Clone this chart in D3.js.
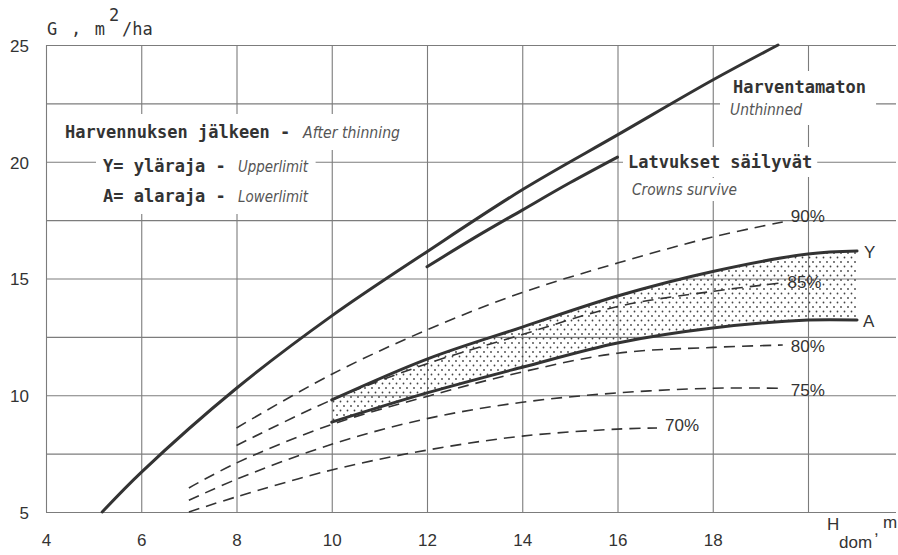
<!DOCTYPE html>
<html>
<head>
<meta charset="utf-8">
<script src="https://cdn.jsdelivr.net/npm/d3@7"></script>
<style>
  body { margin: 0; background: #fff; }
  svg { display: block; }
</style>
</head>
<body>
<svg id="chart" width="898" height="555"></svg>
<script>
// values: [H_dom (m), G (m2/ha)]
const unthinned = [[5.18, 5], [6, 6.7], [8, 10.3], [10, 13.4], [12, 16.15], [14, 18.8], [16, 21.15], [18, 23.5], [19.37, 25]];
const crownsSurvive = [[12, 15.5], [13, 16.75], [14, 17.93], [15, 19.1], [16, 20.2]];
const upperY = [[10, 9.8], [12, 11.55], [14, 12.92], [16, 14.25], [18, 15.3], [20, 16.05], [21.03, 16.18]];
const lowerA = [[10, 8.85], [12, 10.1], [14, 11.2], [16, 12.24], [18, 12.88], [20, 13.22], [21.03, 13.22]];
const p90 = [[8, 8.6], [10, 10.9], [12, 12.8], [14, 14.4], [16, 15.66], [18, 16.78], [19.47, 17.42]];
const p85 = [[8, 7.85], [10, 9.8], [12, 11.35], [14, 12.6], [16, 13.8], [18, 14.45], [19.4, 14.8]];
const p80 = [[7, 6.03], [8, 7.1], [10, 8.75], [12, 9.95], [14, 11.0], [16, 11.8], [18, 12.05], [19.47, 12.15]];
const p75 = [[7, 5.5], [8, 6.4], [10, 7.9], [12, 9.0], [14, 9.7], [16, 10.1], [18, 10.3], [19.47, 10.3]];
const p70 = [[7, 5.0], [8, 5.65], [10, 6.8], [12, 7.65], [14, 8.25], [16, 8.55], [16.83, 8.6]];

const xTicks = [4, 6, 8, 10, 12, 14, 16, 18, 20];
const xLabels = ['4', '6', '8', '10', '12', '14', '16', '18', ''];
const yTicks = [5, 7.5, 10, 12.5, 15, 17.5, 20, 22.5, 25];
const yLabels = ['5', '', '10', '', '15', '', '20', '', '25'];
const pctNames = ['90%', '85%', '80%', '75%', '70%'];

const plotL = 46, plotR = 896, plotT = 45, plotB = 512;

const svg = d3.select('#chart');
const x = d3.scaleLinear().domain([4, 20]).range([plotL, 808]);
const y = d3.scaleLinear().domain([5, 25]).range([plotB, plotT]);

const gridG = svg.append('g');
const maskG = svg.append('g');
const bandG = svg.append('g');
const lineG = svg.append('g');
const textG = svg.append('g');

// dotted fill for the thinning band
const pat = svg.append('defs').append('pattern')
  .attr('id', 'dots')
  .attr('patternUnits', 'userSpaceOnUse')
  .attr('width', 7).attr('height', 9);
pat.append('circle').attr('cx', 1).attr('cy', 1).attr('r', 0.9).attr('fill', '#444');
pat.append('circle').attr('cx', 4.5).attr('cy', 5.5).attr('r', 0.9).attr('fill', '#444');

// grid
gridG.append('g')
  .attr('transform', 'translate(' + plotL + ',0)')
  .call(d3.axisLeft(y).tickValues(yTicks)
    .tickSize(-(plotR - plotL)).tickPadding(17)
    .tickFormat((d, i) => yLabels[i]))
  .call(g => g.select('.domain').remove())
  .call(g => g.selectAll('.tick line').attr('stroke', '#7c7c7c').attr('stroke-width', 1.1))
  .call(g => g.selectAll('.tick text')
    .attr('fill', '#333').attr('font-family', 'Liberation Sans, Arial, sans-serif')
    .attr('font-size', 17).attr('dy', '0.38em'));

gridG.append('g')
  .attr('transform', 'translate(0,' + plotB + ')')
  .call(d3.axisBottom(x).tickValues(xTicks)
    .tickSize(-(plotB - plotT)).tickPadding(22)
    .tickFormat((d, i) => xLabels[i]))
  .call(g => g.select('.domain').remove())
  .call(g => g.selectAll('.tick line').attr('stroke', '#7c7c7c').attr('stroke-width', 1.1))
  .call(g => g.selectAll('.tick text')
    .attr('fill', '#333').attr('font-family', 'Liberation Sans, Arial, sans-serif')
    .attr('font-size', 17));

// curves
const curve = d3.curveCatmullRom.alpha(0.5);
const line = d3.line().x(d => x(d[0])).y(d => y(d[1])).curve(curve);

const band = lowerA.map((d, i) => [d[0], d[1], upperY[i][1]]);
bandG.append('path')
  .attr('d', d3.area().x(d => x(d[0])).y0(d => y(d[1])).y1(d => y(d[2])).curve(curve)(band))
  .attr('fill', 'url(#dots)');

const dashed = [p90, p85, p80, p75, p70];
lineG.selectAll('.pct')
  .data(dashed)
  .join('path')
  .attr('class', 'pct')
  .attr('d', d => line(d))
  .attr('fill', 'none')
  .attr('stroke', '#333')
  .attr('stroke-width', 1.6)
  .attr('stroke-dasharray', '11,7');

lineG.selectAll('.solid')
  .data([unthinned, crownsSurvive, upperY, lowerA])
  .join('path')
  .attr('class', 'solid')
  .attr('d', d => line(d))
  .attr('fill', 'none')
  .attr('stroke', '#333')
  .attr('stroke-width', 3)
  .attr('stroke-linecap', 'round');

// text helpers
const mono = 'DejaVu Sans Mono, monospace';
const ital = 'DejaVu Sans, sans-serif';

function boldText(str, px, py) {
  return textG.append('text')
    .attr('x', px).attr('y', py)
    .attr('font-family', mono).attr('font-weight', 'bold')
    .attr('font-size', 17).attr('fill', '#333')
    .text(str);
}

function italText(str, px, py, w) {
  return textG.append('text')
    .attr('x', px).attr('y', py)
    .attr('font-family', ital).attr('font-style', 'italic').attr('font-weight', 200)
    .attr('font-size', 16).attr('fill', '#555')
    .attr('textLength', w).attr('lengthAdjust', 'spacingAndGlyphs')
    .text(str);
}

function knockout(nodes, padX, padY) {
  let x0 = Infinity, y0 = Infinity, x1 = -Infinity, y1 = -Infinity;
  nodes.forEach(n => {
    const b = n.node().getBBox();
    x0 = Math.min(x0, b.x); y0 = Math.min(y0, b.y);
    x1 = Math.max(x1, b.x + b.width); y1 = Math.max(y1, b.y + b.height);
  });
  maskG.append('rect')
    .attr('x', x0 - padX).attr('y', y0 - padY)
    .attr('width', x1 - x0 + 2 * padX).attr('height', y1 - y0 + 2 * padY)
    .attr('fill', '#fff');
}

// legend block
knockout([boldText('Harvennuksen jälkeen -', 65, 138), italText('After thinning', 303, 138, 97)], 9, 8);
knockout([boldText('Y= yläraja -', 103, 172), italText('Upperlimit', 238, 172, 70)], 7, 8);
knockout([boldText('A= alaraja -', 103, 202), italText('Lowerlimit', 238, 202, 70)], 7, 8);

// curve labels
knockout([boldText('Harventamaton', 733, 93), italText('Unthinned', 730, 115, 72)], 10, 6);
knockout([boldText('Latvukset säilyvät', 628, 168)], 5, 5);
knockout([italText('Crowns survive', 632, 195, 105)], 4, 2);

// percentage labels at the end of each dashed curve
const pctDy = [0, 5, 7, 8, 3];
textG.selectAll('.pctlab')
  .data(dashed)
  .join('text')
  .attr('class', 'pctlab')
  .attr('x', d => x(d[d.length - 1][0]) + 8)
  .attr('y', (d, i) => y(d[d.length - 1][1]) + pctDy[i])
  .attr('font-family', 'Liberation Sans, Arial, sans-serif')
  .attr('font-size', 17).attr('fill', '#333')
  .text((d, i) => pctNames[i]);

textG.append('text')
  .attr('x', x(upperY[upperY.length - 1][0]) + 7).attr('y', y(upperY[upperY.length - 1][1]) + 7)
  .attr('font-family', 'Liberation Sans, Arial, sans-serif').attr('font-size', 17).attr('fill', '#333')
  .text('Y');
textG.append('text')
  .attr('x', x(lowerA[lowerA.length - 1][0]) + 6).attr('y', y(lowerA[lowerA.length - 1][1]) + 7)
  .attr('font-family', 'Liberation Sans, Arial, sans-serif').attr('font-size', 17).attr('fill', '#333')
  .text('A');

// axis titles
const yTitle = textG.append('g').attr('font-family', mono).attr('font-size', 17).attr('fill', '#333');
yTitle.append('text').attr('x', 47).attr('y', 35).attr('textLength', 58).text('G , m');
yTitle.append('text').attr('x', 109).attr('y', 21).text('2');
yTitle.append('text').attr('x', 122).attr('y', 35).text('/ha');

const xTitle = textG.append('g').attr('font-family', 'Liberation Sans, Arial, sans-serif').attr('font-size', 17).attr('fill', '#333');
xTitle.append('text').attr('x', 827).attr('y', 530).text('H');
xTitle.append('text').attr('x', 839).attr('y', 548).text('dom');
xTitle.append('text').attr('x', 874).attr('y', 535).text(',');
xTitle.append('text').attr('x', 883).attr('y', 528).text('m');
</script>
</body>
</html>
